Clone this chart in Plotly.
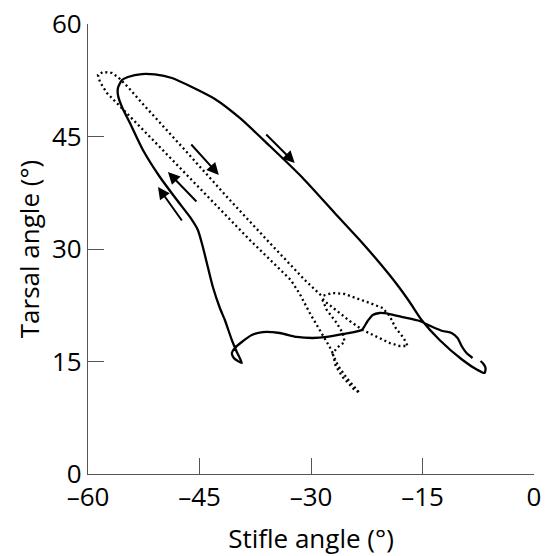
import plotly.graph_objects as go

# Stifle–tarsal angle–angle loops over one stride (degrees)
solid_stifle = [-8.27, -9.07, -9.74, -10.28, -11.09, -12.30, -13.64, -15.39, -17.67, -19.42,
                -20.76, -21.70, -22.38, -23.18, -25.74, -27.88, -29.77, -31.92, -34.20, -36.48,
                -37.96, -39.31, -40.25, -40.65, -40.38, -39.84, -39.31,
                -39.98, -40.65, -41.59, -42.26, -43.20, -43.88, -44.55, -45.22, -46.29, -48.04,
                -50.33, -52.61, -54.36, -55.43, -55.97, -55.97, -55.43, -54.63, -52.74, -51.00,
                -48.71, -46.03,
                -42.93, -39.58, -35.54, -31.11, -26.81, -23.45, -20.76, -18.48, -16.73, -15.12,
                -12.70, -9.61, -7.59, -6.65, -6.52, -6.79, -7.19]
solid_tarsal = [15.47, 16.13, 17.07, 18.13, 18.80, 19.07, 19.60, 20.40, 20.93, 21.33,
                21.47, 21.20, 20.40, 19.20, 18.67, 18.27, 18.13, 18.27, 18.80, 18.93,
                18.53, 17.60, 16.80, 16.13, 15.47, 15.07, 14.80,
                16.27, 17.87, 20.53, 22.13, 24.93, 27.60, 30.27, 32.53, 34.27, 36.53,
                39.60, 43.20, 46.80, 48.93, 50.53, 51.47, 52.53, 52.93, 53.33, 53.27,
                52.80, 51.60,
                50.00, 47.47, 43.73, 39.47, 34.80, 31.20, 28.13, 25.33, 22.93, 20.53,
                17.87, 15.20, 13.87, 13.47, 14.13, 14.67, 15.07]

dotted_stifle = [-27.08, -27.48, -28.83, -30.17, -31.51, -32.72, -38.23, -44.55, -51.00, -57.45,
                 -58.39, -58.66, -57.98, -56.78, -55.97, -54.63,
                 -52.74, -46.97, -40.92, -35.54, -30.84, -28.56,
                 -27.08, -25.47, -23.85, -22.11, -20.36, -19.42, -18.61, -17.54, -17.00,
                 -18.08, -19.42, -21.17, -23.05, -24.79, -26.54, -28.02, -28.56,
                 -27.88, -26.54, -25.74, -25.47, -26.54, -27.08,
                 -26.41, -25.20, -23.99, -23.45,
                 -24.26, -25.74, -26.68, -27.08]
dotted_tarsal = [16.13, 16.93, 19.20, 21.47, 24.00, 25.87, 31.20, 37.73, 44.27, 50.80,
                 52.27, 53.20, 53.60, 53.47, 52.93, 51.60,
                 49.47, 43.20, 36.53, 30.80, 25.87, 23.73,
                 24.13, 24.00, 23.47, 22.80, 22.13, 21.07, 19.47, 18.13, 17.07,
                 17.07, 17.47, 18.27, 19.20, 20.40, 21.73, 22.93, 23.47,
                 21.87, 20.13, 18.80, 17.60, 16.80, 16.00,
                 14.53, 12.80, 11.47, 10.80,
                 11.33, 12.93, 14.40, 16.13]

# Direction-of-travel arrows: (tail stifle, tail tarsal, head stifle, head tarsal)
arrow_tail_x = [-36.22, -46.29, -45.22, -47.23]
arrow_tail_y = [45.47, 44.13, 36.13, 33.60]
arrow_head_x = [-32.19, -42.40, -49.25, -50.59]
arrow_head_y = [41.47, 39.87, 40.27, 38.27]

tick_vals = [-60, -45, -30, -15, 0]
tick_text = ["–60", "–45", "–30", "–15", "0"]
y_tick_vals = [0, 15, 30, 45, 60]

FONT = "Open Sans, Noto Sans, sans-serif"
FSIZE = 26

fig = go.Figure()
fig.add_trace(go.Scatter(x=dotted_stifle, y=dotted_tarsal, mode="lines",
                         line=dict(color="black", width=2.3, dash="2px,3px"),
                         hoverinfo="skip", showlegend=False))
fig.add_trace(go.Scatter(x=solid_stifle, y=solid_tarsal, mode="lines",
                         line=dict(color="black", width=2.3, shape="spline", smoothing=0.6),
                         hoverinfo="skip", showlegend=False))

for tx, ty, hx, hy in zip(arrow_tail_x, arrow_tail_y, arrow_head_x, arrow_head_y):
    fig.add_annotation(x=hx, y=hy, ax=tx, ay=ty, xref="x", yref="y", axref="x", ayref="y",
                       text="", showarrow=True, arrowhead=2, arrowsize=1.2,
                       arrowwidth=2, arrowcolor="black")

axis_common = dict(showline=True, linecolor="#555555", linewidth=1.2,
                   ticks="inside", ticklen=16, tickcolor="#555555", tickwidth=1.2,
                   showgrid=False, zeroline=False, mirror=False, automargin=False,
                   tickfont=dict(family=FONT, size=FSIZE, color="black"))

fig.update_xaxes(range=[-60, 0], tickvals=tick_vals, ticktext=tick_text,
                 title=dict(text="Stifle angle (°)", font=dict(family=FONT, size=FSIZE, color="black"),
                            standoff=18),
                 **axis_common)
fig.update_yaxes(range=[0, 60], tickvals=y_tick_vals,
                 title=dict(text="Tarsal angle (°)", font=dict(family=FONT, size=FSIZE, color="black"),
                            standoff=4),
                 **axis_common)

fig.update_layout(width=548, height=556, margin=dict(l=88, r=14, t=24, b=82),
                  plot_bgcolor="white", paper_bgcolor="white")

fig.write_html("out.html")
